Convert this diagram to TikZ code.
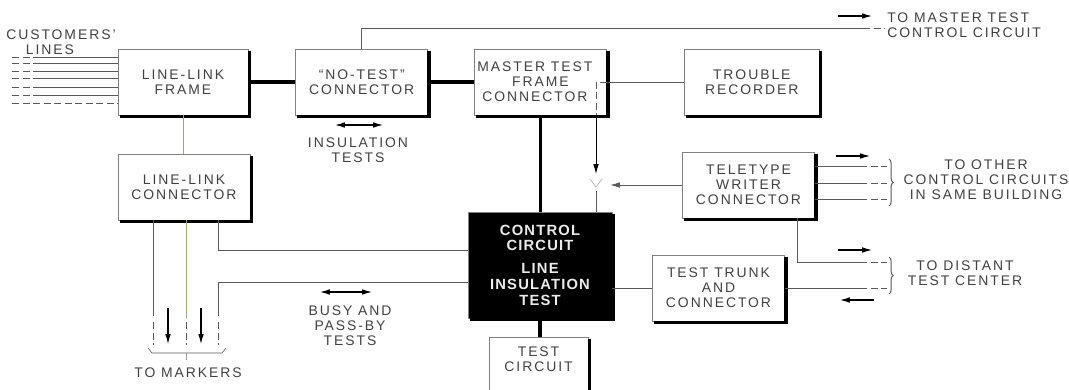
\documentclass[tikz,border=0pt]{standalone}
\usepackage{fontspec}
\usepackage{tikz}
\usetikzlibrary{arrows.meta, positioning}
\usetikzlibrary{decorations.pathreplacing}
\newfontfamily\lettering[LetterSpace=14]{Liberation Sans}
\newfontfamily\heavylettering[LetterSpace=8]{Liberation Sans Bold}
\definecolor{sage}{RGB}{150,168,128}

\begin{document}
\begin{tikzpicture}[x=0.025cm, y=-0.025cm,
    lbl/.style={text=black!75, align=center, inner sep=0pt, font=\lettering\fontsize{9.9}{10.7}\selectfont},
    box/.style={lbl, draw=black!50, line width=0.5pt, fill=white, minimum width=3.3cm, minimum height=1.65cm},
    rim/.style={draw=black, line width=2.6pt},
    wire/.style={draw=black!65, line width=0.7pt},
    sagewire/.style={draw=sage, line width=0.7pt},
    heavy/.style={draw=black, line width=2.4pt},
    broken/.style={dash pattern=on 5pt off 2.5pt},
    flow/.style={black, line width=0.8pt, -{Latex[length=7pt, width=4pt]}},
    flowboth/.style={black, line width=0.8pt, {Latex[length=7pt, width=4pt]}-{Latex[length=7pt, width=4pt]}}]
  \useasboundingbox (0,0) rectangle (1069,389);

  % blocks
  \node[box, minimum width=3.25cm] (frame) at (183,82) {LINE-LINK\\FRAME};
  \node[box, right=1.175cm of frame] (notest) {“NO-TEST”\\CONNECTOR};
  \node[box, right=1.15cm of notest] (master)
        {MASTER TEST\hspace*{8pt}\\FRAME\hspace*{12pt}\\CONNECTOR\hspace*{8pt}};
  \node[box, right=1.925cm of master, minimum width=3.375cm] (trouble) {TROUBLE\\RECORDER};
  \node[box] (linkconn) at (184,187) {LINE-LINK\\CONNECTOR};
  \node[box, fill=black, text=white!92!black, minimum width=3.6cm, minimum height=2.65cm,
        font=\heavylettering\fontsize{10.5}{11.2}\selectfont] (control) at (540,265)
        {CONTROL\\CIRCUIT\\[5pt]LINE\\INSULATION\\TEST};
  \node[box, minimum width=2.475cm, minimum height=1.6cm] (testcirc) at (538.5,369) {TEST\\CIRCUIT\\\strut};
  \node[box] (teletype) at (748.5,185) {TELETYPE\\WRITER\\CONNECTOR};
  \node[box] (trunk) at (718.5,288) {TEST TRUNK\\AND\\CONNECTOR};
  % heavy right and bottom edges
  \foreach \blk in {frame,notest,master,trouble,linkconn,control,teletype,trunk}
    \draw[rim] ([shift={(1,2)}]\blk.north east) -- ([shift={(1,1)}]\blk.south east)
      -- ([shift={(2,1)}]\blk.south west);
  \draw[rim] ([shift={(1,2)}]testcirc.north east) -- ([shift={(1,0)}]testcirc.south east);

  % customers' lines
  \node[lbl, anchor=north west, align=left] (cust) at (6,29) {CUSTOMERS’\\\hspace*{14pt}LINES};
  \foreach \y in {57,63,71,78,87,95} {
    \draw[wire] (36,\y) -- (frame.west |- 0,\y);
    \draw[wire, broken] (12,\y) -- (36,\y);
  }
  \draw[wire, broken] (12,103) -- (frame.west |- 0,103);

  % top row
  \draw[heavy] (frame) -- (notest);
  \draw[heavy] (notest) -- (master);
  \draw[wire] (master) -- (trouble);
  \coordinate (mtc) at (863,28);
  \coordinate (mtcend) at (885,28);
  \draw[wire] (notest.north) |- (mtc);
  \draw[wire, broken] (mtc) -- (mtcend);
  \draw[flow] (838,16) -- (872,16);
  \node[lbl, anchor=west, align=left] (mtctext) at (887,25) {TO MASTER TEST\\CONTROL CIRCUIT};

  \draw[flowboth] (335,125) -- (383,125);
  \node[lbl] (insul) at (358,150) {INSULATION\\TESTS};

  % master test frame to control circuit
  \draw[heavy] (master.south) -- (master.south |- control.north);
  \coordinate (swtop) at (596,82);
  \coordinate (swend) at (596,174);
  \coordinate (swbot) at (596,191);
  \coordinate (ttin) at (610,185);
  \draw[wire, broken] (master.east) -- (swtop) -- (swtop |- master.south);
  \draw[flow, line width=0.7pt] (swtop |- master.south) -- (swend);
  \draw[black!30, line width=0.5pt] (590,179) -- (596,187) -- (602,179);
  \draw[wire] (swbot) -- (swbot |- control.north);
  \draw[wire, -{Latex[length=7pt, width=4pt]}] (teletype.west) -- (ttin);

  % line-link side
  \draw[sagewire] (frame.south) -- (frame.south |- linkconn.north);
  \coordinate (mkA) at (153,316);
  \coordinate (mkB) at (186,318);
  \coordinate (mkC) at (218,316);
  \draw[wire] (linkconn.south -| mkA) -- (mkA);
  \draw[sagewire] (linkconn.south -| mkB) -- (mkB);
  \draw[wire] (control.west |- 0,250) -| (linkconn.south -| mkC);
  \draw[wire] (control.west |- 0,282) -| (mkC);
  \foreach \x in {153,186,218}
    \draw[wire, broken] (\x,322) -- (\x,345);
  \foreach \x in {168,201}
    \draw[flow] (\x,308) -- (\x,344);
  \draw[wire, line width=0.4pt] (148,348) -- (152,353) -- (222,353) -- (226,348);
  \draw[black!40, line width=0.4pt] (186,353) -- (186,360);
  \node[lbl] (markers) at (188,373) {TO MARKERS};

  \draw[flowboth] (320,292) -- (372,292);
  \node[lbl] (busy) at (350,326) {BUSY AND\\PASS-BY\\TESTS};

  % control circuit below and right
  \draw[heavy] (control.south) -- (control.south |- testcirc.north);
  \draw[wire] (control.east |- trunk.west) -- (trunk.west);

  % teletype outputs
  \foreach \y in {166,183,199} {
    \draw[wire] (teletype.east |- 0,\y) -- (860,\y);
    \draw[wire, broken] (860,\y) -- (887,\y);
  }
  \draw[flow] (836,156) -- (870,156);
  \draw[wire, decorate, decoration={brace, amplitude=3pt}] (889,159) -- (889,206);
  \node[lbl] (other) at (986,180) {TO OTHER\\CONTROL CIRCUITS\\IN SAME BUILDING};

  % distant test center
  \coordinate (dtc) at (860,262);
  \draw[wire] (teletype.south -| 797,0) |- (dtc);
  \draw[wire, broken] (dtc) -- (887,262);
  \draw[wire] (trunk.east) -- (trunk.east -| 860,0);
  \draw[wire, broken] (trunk.east -| 860,0) -- (trunk.east -| 887,0);
  \draw[flow] (838,250) -- (872,250);
  \draw[flow] (874,300) -- (840,300);
  \draw[wire, decorate, decoration={brace, amplitude=3pt}] (889,257) -- (889,294);
  \node[lbl] (distant) at (965,273) {TO DISTANT\\TEST CENTER};
\end{tikzpicture}
\end{document}
